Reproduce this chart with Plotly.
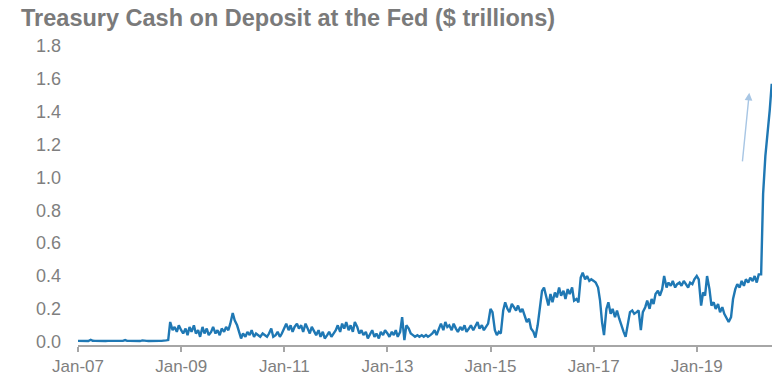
import pandas as pd
import plotly.graph_objects as go

# Treasury General Account balance at the Fed, $ trillions, sampled on the 1st and 15th of each month
tga_2007 = [0.005, 0.005, 0.004, 0.005, 0.005, 0.004, 0.012, 0.006, 0.005, 0.004, 0.005, 0.006,
            0.005, 0.004, 0.005, 0.005, 0.004, 0.005, 0.005, 0.004, 0.005, 0.005, 0.010, 0.005]
tga_2008 = [0.005, 0.004, 0.005, 0.006, 0.005, 0.004, 0.008, 0.005, 0.005, 0.004, 0.005, 0.006,
            0.005, 0.004, 0.005, 0.005, 0.005, 0.008, 0.010, 0.12, 0.07, 0.09, 0.06, 0.10]
tga_2009 = [0.07, 0.05, 0.08, 0.04, 0.09, 0.06, 0.10, 0.05, 0.07, 0.03, 0.09, 0.05,
            0.08, 0.04, 0.06, 0.09, 0.05, 0.07, 0.04, 0.08, 0.06, 0.09, 0.07, 0.11]
tga_2010 = [0.175, 0.13, 0.10, 0.06, 0.02, 0.05, 0.03, 0.06, 0.04, 0.07, 0.03, 0.05,
            0.04, 0.03, 0.05, 0.04, 0.03, 0.05, 0.08, 0.03, 0.04, 0.06, 0.03, 0.05]
tga_2011 = [0.09, 0.11, 0.07, 0.10, 0.06, 0.09, 0.11, 0.08, 0.10, 0.06, 0.11, 0.08,
            0.05, 0.09, 0.06, 0.04, 0.07, 0.03, 0.06, 0.02, 0.04, 0.06, 0.03, 0.05]
tga_2012 = [0.07, 0.10, 0.06, 0.11, 0.08, 0.12, 0.07, 0.10, 0.06, 0.12, 0.09, 0.05,
            0.07, 0.04, 0.06, 0.02, 0.05, 0.07, 0.03, 0.05, 0.02, 0.06, 0.04, 0.07]
tga_2013 = [0.05, 0.03, 0.06, 0.04, 0.07, 0.03, 0.06, 0.15, 0.01, 0.10, 0.08, 0.05,
            0.04, 0.03, 0.04, 0.03, 0.04, 0.03, 0.04, 0.03, 0.04, 0.05, 0.07, 0.04]
tga_2014 = [0.08, 0.11, 0.07, 0.12, 0.09, 0.10, 0.07, 0.11, 0.08, 0.06, 0.09, 0.07,
            0.10, 0.06, 0.08, 0.10, 0.07, 0.09, 0.12, 0.08, 0.10, 0.07, 0.09, 0.11]
tga_2015 = [0.20, 0.18, 0.07, 0.04, 0.06, 0.05, 0.19, 0.24, 0.20, 0.18, 0.23, 0.21,
            0.19, 0.22, 0.18, 0.20, 0.15, 0.12, 0.14, 0.08, 0.06, 0.025, 0.10, 0.19]
tga_2016 = [0.31, 0.33, 0.27, 0.22, 0.29, 0.24, 0.30, 0.27, 0.33, 0.28, 0.31, 0.26,
            0.32, 0.29, 0.33, 0.25, 0.26, 0.24, 0.39, 0.42, 0.38, 0.40, 0.37, 0.38]
tga_2017 = [0.37, 0.36, 0.33, 0.25, 0.12, 0.04, 0.20, 0.24, 0.17, 0.20, 0.15, 0.19,
            0.14, 0.10, 0.06, 0.03, 0.12, 0.18, 0.19, 0.17, 0.18, 0.19, 0.07, 0.18]
tga_2018 = [0.21, 0.25, 0.20, 0.26, 0.23, 0.29, 0.31, 0.28, 0.32, 0.40, 0.33, 0.36,
            0.34, 0.37, 0.33, 0.35, 0.36, 0.34, 0.37, 0.35, 0.33, 0.36, 0.35, 0.38]
tga_2019 = [0.40, 0.38, 0.22, 0.30, 0.28, 0.40, 0.32, 0.22, 0.24, 0.20, 0.23, 0.18,
            0.21, 0.17, 0.14, 0.12, 0.15, 0.26, 0.32, 0.35, 0.33, 0.37, 0.34, 0.38]
tga_2020 = [0.36, 0.39, 0.37, 0.40, 0.36, 0.41, 0.41, 0.90, 1.13, 1.25, 1.41, 1.57]

yearly = [(2007, tga_2007), (2008, tga_2008), (2009, tga_2009), (2010, tga_2010),
          (2011, tga_2011), (2012, tga_2012), (2013, tga_2013), (2014, tga_2014),
          (2015, tga_2015), (2016, tga_2016), (2017, tga_2017), (2018, tga_2018),
          (2019, tga_2019), (2020, tga_2020)]

dates, values = [], []
for year, vals in yearly:
    for i, v in enumerate(vals):
        month = i // 2 + 1
        day = 1 if i % 2 == 0 else 15
        dates.append(pd.Timestamp(year, month, day))
        values.append(v)

y_ticks = [0.0, 0.2, 0.4, 0.6, 0.8, 1.0, 1.2, 1.4, 1.6, 1.8]

fig = go.Figure()
fig.add_trace(go.Scatter(
    x=dates, y=values, mode="lines",
    line=dict(color="#1f78b4", width=2.4),
    hoverinfo="x+y",
))

# upward arrow near the end of the series
fig.add_annotation(
    x="2020-01-08", y=1.515, ax=-7, ay=70,
    xref="x", yref="y", axref="pixel", ayref="pixel",
    text="", showarrow=True, arrowhead=2, arrowsize=1.1, arrowwidth=1.4,
    arrowcolor="#a8c6e4",
)

fig.update_layout(
    width=780, height=376,
    margin=dict(l=78, r=8, t=46, b=31, autoexpand=False),
    paper_bgcolor="white", plot_bgcolor="white",
    showlegend=False,
    font=dict(family="Liberation Sans, Arial, sans-serif", color="#7f7f7f", size=18),
    title=dict(
        text="<b>Treasury Cash on Deposit at the Fed ($ trillions)</b>",
        x=0.027, xanchor="left", y=0.952, yanchor="middle",
        font=dict(size=23.5, color="#7a7a7a"),
    ),
)

fig.update_xaxes(
    type="date", range=["2007-01-01", "2020-06-17"],
    tick0="2007-01-01", dtick="M24", tickformat="%b-%y",
    showgrid=False, zeroline=False,
    showline=True, linecolor="#a6a6a6", linewidth=2,
    ticks="outside", ticklen=5, tickwidth=2, tickcolor="#a6a6a6",
    ticklabelstandoff=0, automargin=False,
    tickfont=dict(size=17),
)
fig.update_yaxes(
    range=[-0.02, 1.8], tickvals=y_ticks,
    ticktext=[f"{t:.1f}" for t in y_ticks],
    showgrid=False, zeroline=False, showline=False,
    ticks="", ticklabelstandoff=16, automargin=False,
)

fig.write_html("out.html")
